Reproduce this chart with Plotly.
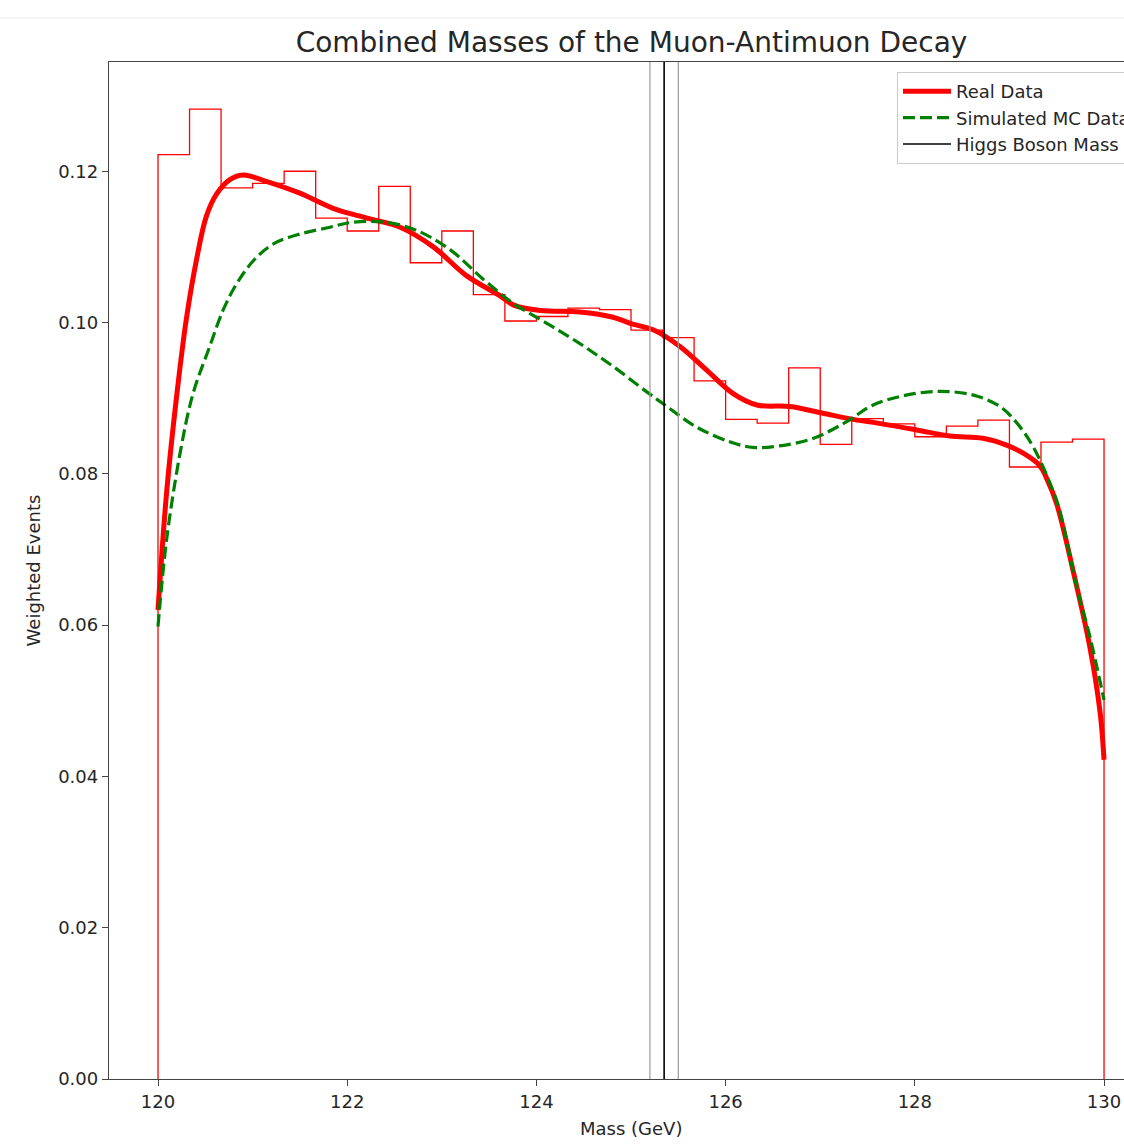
import plotly.graph_objects as go

# ---------------- data ----------------
BIN_START = 120.0
BIN_END = 130.0
N_BINS = 30
hist_values = [0.1222, 0.1282, 0.1178, 0.1184, 0.1200, 0.1138, 0.1121, 0.1180, 0.1079, 0.1121,
               0.1037, 0.1002, 0.1008, 0.1019, 0.1017, 0.0990, 0.0980, 0.0923, 0.0872, 0.0867,
               0.0940, 0.0839, 0.0873, 0.0866, 0.0849, 0.0863, 0.0871, 0.0809, 0.0842, 0.0846]

real_x = [120.00, 120.09, 120.20, 120.30, 120.41, 120.51, 120.62, 120.76, 120.90, 121.11,
          121.50, 121.85, 122.21, 122.56, 122.91, 123.26, 123.62, 123.76, 124.04, 124.46,
          124.81, 124.99, 125.24, 125.52, 125.80, 126.08, 126.33, 126.68, 127.03, 127.39,
          127.56, 128.02, 128.37, 128.72, 128.97, 129.15, 129.32, 129.39, 129.50, 129.68,
          129.85, 129.96, 130.00]
real_y = [0.0620, 0.0774, 0.0906, 0.1005, 0.1085, 0.1140, 0.1170, 0.1189, 0.1195, 0.1188,
          0.1171, 0.1151, 0.1138, 0.1126, 0.1100, 0.1062, 0.1035, 0.1023, 0.1016, 0.1014,
          0.1007, 0.0999, 0.0990, 0.0968, 0.0937, 0.0906, 0.0891, 0.0889, 0.0880, 0.0871,
          0.0868, 0.0858, 0.0850, 0.0847, 0.0838, 0.0827, 0.0811, 0.0795, 0.0760, 0.0668,
          0.0571, 0.0483, 0.0422]

mc_x = [120.00, 120.09, 120.23, 120.37, 120.54, 120.69, 120.83, 121.01, 121.22, 121.50,
        121.82, 122.03, 122.38, 122.73, 123.09, 123.44, 123.76, 124.11, 124.46, 124.81,
        125.17, 125.38, 125.69, 126.05, 126.29, 126.57, 126.93, 127.28, 127.56, 127.91,
        128.27, 128.62, 128.90, 129.08, 129.25, 129.43, 129.53, 129.71, 129.85, 130.00]
mc_y = [0.0598, 0.0712, 0.0825, 0.0906, 0.0966, 0.1017, 0.1051, 0.1082, 0.1104, 0.1117,
        0.1126, 0.1132, 0.1133, 0.1122, 0.1096, 0.1057, 0.1025, 0.0999, 0.0972, 0.0942,
        0.0908, 0.0889, 0.0862, 0.0842, 0.0835, 0.0837, 0.0847, 0.0869, 0.0891, 0.0904,
        0.0909, 0.0904, 0.0889, 0.0867, 0.0836, 0.0787, 0.0752, 0.0651, 0.0585, 0.0501]

HIGGS_MASS = 125.35
HIGGS_UNC = 0.15

x_tick_vals = [120, 122, 124, 126, 128, 130]
y_tick_vals = [0.00, 0.02, 0.04, 0.06, 0.08, 0.10, 0.12]

# ---------------- build ----------------
width = (BIN_END - BIN_START) / N_BINS
edges = [BIN_START + i * width for i in range(N_BINS)]
step_x = [BIN_START] + edges + [BIN_END, BIN_END]
step_y = [0.0] + hist_values + [hist_values[-1], 0.0]

FONT = "DejaVu Sans"
TXT = "#262626"
FS = 18

fig = go.Figure()
fig.add_trace(go.Scatter(x=step_x, y=step_y, mode="lines", line=dict(color="red", width=1.3, shape="hv"),
                         showlegend=False, hoverinfo="skip"))
fig.add_trace(go.Scatter(x=real_x, y=real_y, mode="lines", name="Real Data",
                         line=dict(color="red", width=5, shape="spline", smoothing=1.0)))
fig.add_trace(go.Scatter(x=mc_x, y=mc_y, mode="lines", name="Simulated MC Data",
                         line=dict(color="green", width=3.2, dash="12px,5px", shape="spline", smoothing=1.0)))
fig.add_trace(go.Scatter(x=[None], y=[None], mode="lines", name="Higgs Boson Mass",
                         line=dict(color="black", width=1.5)))

fig.add_vline(x=HIGGS_MASS - HIGGS_UNC, line=dict(color="#9a9a9a", width=1.2))
fig.add_vline(x=HIGGS_MASS + HIGGS_UNC, line=dict(color="#9a9a9a", width=1.2))
fig.add_vline(x=HIGGS_MASS, line=dict(color="black", width=1.6))

# faint page separator line at the very top
fig.add_shape(type="line", xref="paper", yref="paper", x0=-0.2, x1=1.2, y0=1.0433, y1=1.0433,
              line=dict(color="#ececec", width=1))

W, H = 1124, 1145
L, R, T, B = 109, 0, 62, 66

fig.update_layout(
    width=W, height=H,
    margin=dict(l=L, r=R, t=T, b=B, pad=0, autoexpand=False),
    paper_bgcolor="white", plot_bgcolor="white",
    font=dict(family=FONT, color=TXT, size=FS),
    title=dict(text="Combined Masses of the Muon-Antimuon Decay", font=dict(family=FONT, size=28, color=TXT),
               x=(631.5 - L) / (W - L), xref="paper", xanchor="center",
               y=1 - 42 / H, yref="container", yanchor="middle"),
    showlegend=True,
    legend=dict(x=(897 - L) / (W - L), y=(1079 - 72) / (H - T - B), xanchor="left", yanchor="top",
                bgcolor="rgba(255,255,255,0.9)", bordercolor="#cccccc", borderwidth=1,
                font=dict(family=FONT, size=FS, color=TXT), itemwidth=48, tracegroupgap=0),
    annotations=[dict(text="Mass (GeV)", xref="paper", yref="paper", x=(631 - L) / (W - L),
                      y=-(1128 - 1079) / (H - T - B), xanchor="center", yanchor="middle",
                      showarrow=False, font=dict(family=FONT, size=FS, color=TXT))],
)

fig.update_xaxes(range=[119.482, 130.211], tickvals=x_tick_vals, ticktext=[str(v) for v in x_tick_vals],
                 showgrid=False, zeroline=False, showline=True, linecolor="#444444", linewidth=1.3,
                 mirror=True, ticks="outside", ticklen=6, tickwidth=1.2, tickcolor="#444444",
                 tickfont=dict(family=FONT, size=FS, color=TXT))
fig.update_yaxes(range=[0, 0.13444], tickvals=y_tick_vals, tickformat=".2f",
                 showgrid=False, zeroline=False, showline=True, linecolor="#444444", linewidth=1.3,
                 mirror=False, ticks="outside", ticklen=6, tickwidth=1.2, tickcolor="#444444",
                 tickfont=dict(family=FONT, size=FS, color=TXT),
                 title=dict(text="Weighted Events", font=dict(family=FONT, size=FS, color=TXT), standoff=12))

fig.write_html("out.html")
